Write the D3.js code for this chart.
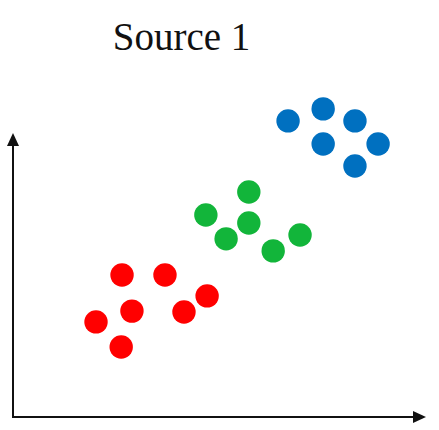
<!DOCTYPE html>
<html>
<head>
<meta charset="utf-8">
<script src="https://cdn.jsdelivr.net/npm/d3@7"></script>
<style>
  body { margin: 0; background: #fff; }
</style>
</head>
<body>
<div id="chart"></div>
<script>
const title = "Source 1";

// cluster points, x / y in arbitrary units (0-100)
const redX = [20.1, 26.2, 26.4, 28.8, 36.8, 41.4, 47.0];
const redY = [30.0, 22.1, 44.8, 33.4, 44.8, 33.1, 38.2];
const greenX = [46.7, 51.6, 57.1, 57.1, 63.0, 69.5];
const greenY = [63.7, 56.2, 71.0, 61.2, 52.4, 57.4];
const blueX = [66.6, 75.1, 82.8, 75.1, 88.4, 82.8];
const blueY = [93.4, 97.2, 93.4, 86.1, 86.1, 79.2];

const series = [
    {name: "red", color: "#ff0000", xs: redX, ys: redY},
    {name: "green", color: "#12b53a", xs: greenX, ys: greenY},
    {name: "blue", color: "#0070c0", xs: blueX, ys: blueY}
];

const width = 439, height = 430;

const svg = d3.select("#chart").append("svg")
    .attr("width", width)
    .attr("height", height);

const x = d3.scaleLinear().domain([0, 100]).range([13, 426]);
const y = d3.scaleLinear().domain([0, 100]).range([417, 100]);

// title
svg.append("text")
    .attr("x", 181.5)
    .attr("y", 49.5)
    .attr("text-anchor", "middle")
    .style("font-family", "'Liberation Serif', 'DejaVu Serif', serif")
    .style("font-size", "39px")
    .style("fill", "#111")
    .text(title);

// axes: plain lines with arrow heads
const x0 = x(0), y0 = y(0);
const xEnd = 426, yEnd = 133;
const axisColor = "#111";

svg.append("line")
    .attr("x1", x0).attr("y1", y0)
    .attr("x2", xEnd - 8).attr("y2", y0)
    .attr("stroke", axisColor)
    .attr("stroke-width", 2);

svg.append("line")
    .attr("x1", x0).attr("y1", y0 + 1)
    .attr("x2", x0).attr("y2", yEnd + 8)
    .attr("stroke", axisColor)
    .attr("stroke-width", 2);

svg.append("path")
    .attr("d", `M${xEnd},${y0} L${xEnd - 13},${y0 - 6} L${xEnd - 13},${y0 + 6} Z`)
    .attr("fill", axisColor);

svg.append("path")
    .attr("d", `M${x0},${yEnd} L${x0 - 6},${yEnd + 13} L${x0 + 6},${yEnd + 13} Z`)
    .attr("fill", axisColor);

// points
const pts = series.flatMap(s => s.xs.map((v, i) => ({x: v, y: s.ys[i], color: s.color})));

svg.append("g")
    .selectAll("circle")
    .data(pts)
    .enter().append("circle")
        .attr("cx", d => x(d.x))
        .attr("cy", d => y(d.y))
        .attr("r", 11.7)
        .attr("fill", d => d.color);
</script>
</body>
</html>
